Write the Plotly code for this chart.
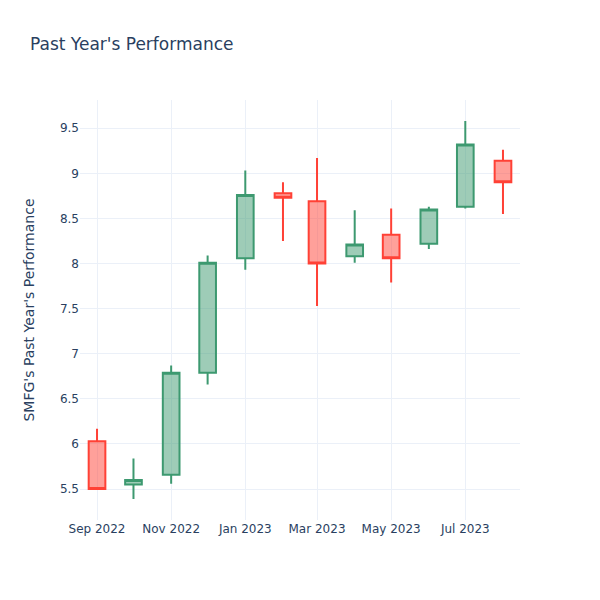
import plotly.graph_objects as go

dates = ["2022-09-01", "2022-10-01", "2022-11-01", "2022-12-01", "2023-01-01", "2023-02-01",
         "2023-03-01", "2023-04-01", "2023-05-01", "2023-06-01", "2023-07-01", "2023-08-01"]
opens = [6.03, 5.55, 5.66, 6.79, 8.06, 8.78, 8.69, 8.08, 8.32, 8.22, 8.63, 9.14]
highs = [6.17, 5.84, 6.87, 8.09, 9.03, 8.90, 9.17, 8.59, 8.61, 8.63, 9.58, 9.26]
lows = [5.50, 5.39, 5.56, 6.66, 7.93, 8.25, 7.53, 8.01, 7.79, 8.16, 8.61, 8.55]
closes = [5.50, 5.60, 6.79, 8.01, 8.76, 8.73, 8.00, 8.21, 8.06, 8.60, 9.32, 8.90]

fig = go.Figure(go.Candlestick(x=dates, open=opens, high=highs, low=lows, close=closes))
fig.update_layout(
    template="plotly_white",
    font_family="DejaVu Sans",
    title="Past Year's Performance",
    yaxis_title="SMFG's Past Year's Performance",
    yaxis_title_standoff=22,
    xaxis_rangeslider_visible=False,
    width=600, height=600,
)
fig.write_html("out.html", config={"displayModeBar": False},
               post_script="document.body.style.margin='0';")
